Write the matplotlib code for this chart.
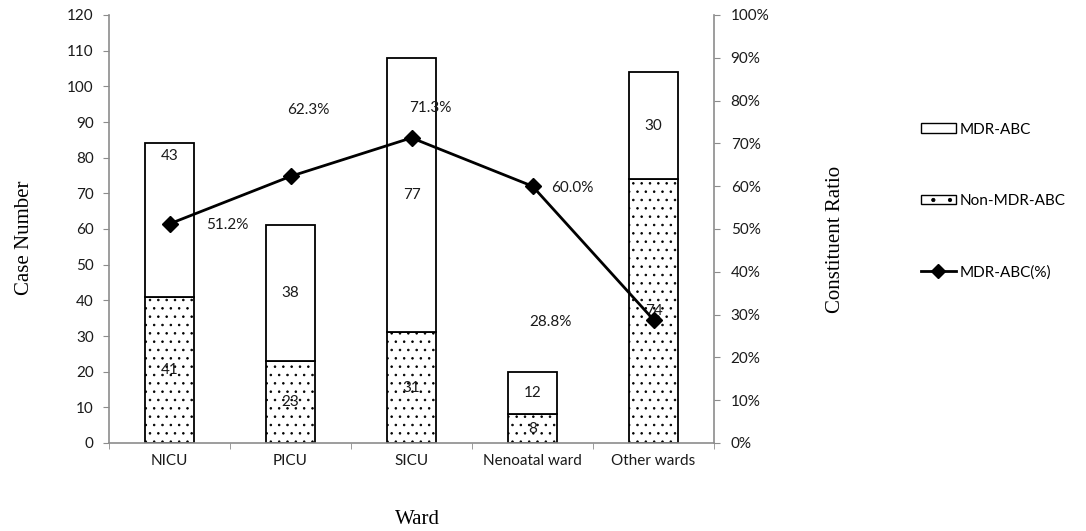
import matplotlib
matplotlib.use("Agg")
import matplotlib.pyplot as plt
import numpy as np
from matplotlib.patches import Patch
from matplotlib.lines import Line2D

wards = ["NICU", "PICU", "SICU", "Nenoatal ward", "Other wards"]
non_mdr = [41, 23, 31, 8, 74]
mdr = [43, 38, 77, 12, 30]
mdr_pct = [51.2, 62.3, 71.3, 60.0, 28.8]

# where each percentage label sits relative to its marker (pixels)
pct_offsets = [(58, -1), (18, 66), (19, 30), (40, -2), (-103, -2)]

plt.rcParams["font.family"] = ["Lato", "DejaVu Sans"]
plt.rcParams["hatch.linewidth"] = 0.6
spine_col = "#8c8c8c"
text_col = "#1a1a1a"
serif = "Liberation Serif"

fig = plt.figure(figsize=(10.86, 5.31), dpi=100)
ax = fig.add_axes([109 / 1086, 1 - 443 / 531, 605 / 1086, 428 / 531])
x = np.arange(len(wards))
w = 0.4

ax.bar(x, non_mdr, w, color="white", edgecolor="black", hatch="..", linewidth=1.3)
ax.bar(x, mdr, w, bottom=non_mdr, color="white", edgecolor="black", linewidth=1.3)

for i in range(len(wards)):
    ax.text(x[i], non_mdr[i] / 2, str(non_mdr[i]), ha="center", va="center",
            fontsize=11, color=text_col)
    # NICU's MDR count is printed near the top of its segment
    y_top = non_mdr[i] + mdr[i] - 3.5 if i == 0 else non_mdr[i] + mdr[i] / 2
    ax.text(x[i], y_top, str(mdr[i]), ha="center", va="center",
            fontsize=11, color=text_col)

ax.set_xlim(-0.5, len(wards) - 0.5)
ax.set_ylim(0, 120)
ax.set_yticks(range(0, 121, 10))
ax.set_xticks(x)
ax.set_xticklabels(wards, fontsize=11, color=text_col)
ax.set_xticks(np.arange(-0.5, len(wards), 1), minor=True)
ax.tick_params(axis="x", which="major", length=0, pad=8)
ax.tick_params(axis="x", which="minor", length=4, color=spine_col, direction="out")
ax.tick_params(axis="y", length=4, color=spine_col, labelsize=11, labelcolor=text_col, pad=7)
for side in ["top", "right"]:
    ax.spines[side].set_visible(False)
for side in ["left", "bottom"]:
    ax.spines[side].set_color(spine_col)
    ax.spines[side].set_linewidth(1.2)

ax.set_ylabel("Case Number", family=serif, fontsize=15, va="center")
ax.yaxis.set_label_coords((25 - 109) / 605, 0.48)
ax.set_xlabel("Ward", family=serif, fontsize=15, va="center")
ax.xaxis.set_label_coords((417 - 109) / 605, (443 - 519) / 428)

ax2 = ax.twinx()
ax2.set_ylim(0, 100)
ax2.set_yticks(range(0, 101, 10))
ax2.set_yticklabels([f"{v}%" for v in range(0, 101, 10)])
ax2.tick_params(axis="y", length=4, color=spine_col, labelsize=11, labelcolor=text_col, pad=8)
for side in ["top", "left", "bottom"]:
    ax2.spines[side].set_visible(False)
ax2.spines["right"].set_color(spine_col)
ax2.spines["right"].set_linewidth(1.2)
ax2.set_ylabel("Constituent Ratio", family=serif, fontsize=15, va="center")
ax2.yaxis.set_label_coords((835 - 109) / 605, (443 - 239) / 428)

ax2.plot(x, mdr_pct, color="black", linewidth=2, marker="D", markersize=8)
for i, v in enumerate(mdr_pct):
    ax2.annotate(f"{v:.1f}%", (x[i], v), xytext=pct_offsets[i], textcoords="offset pixels",
                 ha="center", va="center", fontsize=11, color=text_col)

handles = [
    Patch(facecolor="white", edgecolor="black", linewidth=1.0),
    Patch(facecolor="white", edgecolor="black", hatch=".", linewidth=1.0),
    Line2D([], [], color="black", linewidth=2, marker="D", markersize=7),
]
fig.legend(handles, ["MDR-ABC", "Non-MDR-ABC", "MDR-ABC(%)"], loc="upper left",
           bbox_to_anchor=(0.835, 0.795), frameon=False, fontsize=11,
           handlelength=2.3, handleheight=0.6, handletextpad=0.25, labelspacing=3.75)

fig.savefig("out.png", dpi=100)
